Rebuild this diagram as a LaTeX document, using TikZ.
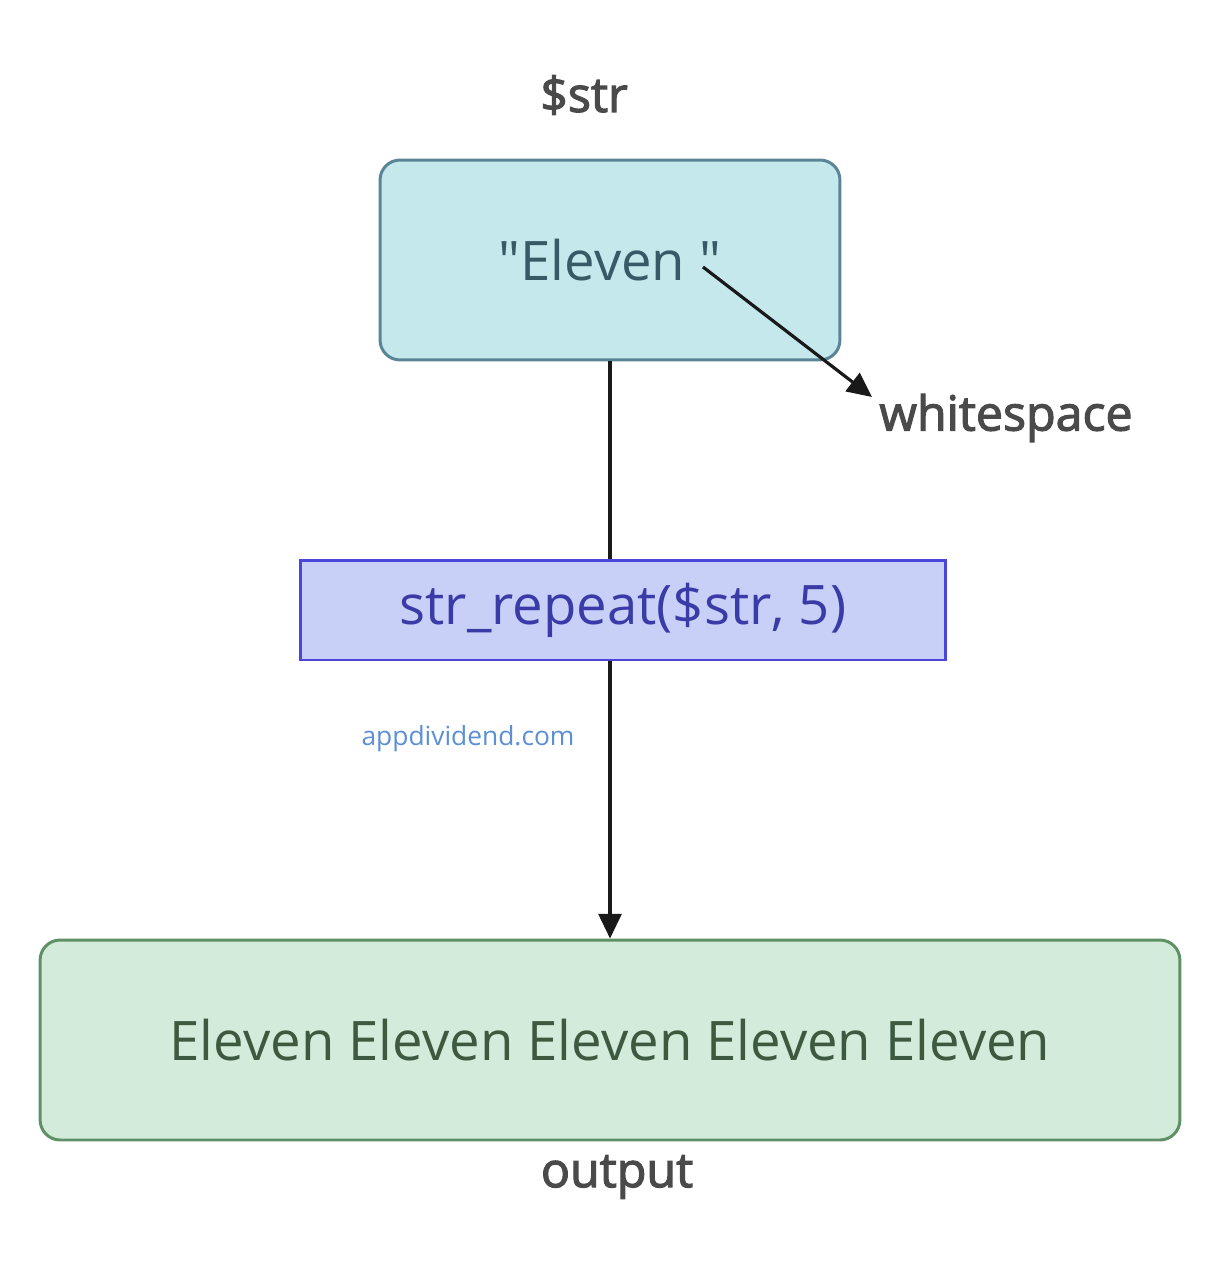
\documentclass[tikz,border=0pt]{standalone}
\usepackage{fontspec}
\setmainfont{Open Sans}[Ligatures=TeXOff]
\newfontfamily\labelfont[FakeBold=2.4]{Open Sans}
\usepackage{xcolor}
\usepackage{tikz}
\usetikzlibrary{arrows.meta}

\definecolor{strfill}{HTML}{C5E8EC}
\definecolor{strdraw}{HTML}{5A8597}
\definecolor{strtext}{HTML}{385A66}
\definecolor{fnfill}{HTML}{C8D0F8}
\definecolor{fndraw}{HTML}{4A47D8}
\definecolor{fntext}{HTML}{3B3BA8}
\definecolor{outfill}{HTML}{D2EBDA}
\definecolor{outdraw}{HTML}{5F9066}
\definecolor{outtext}{HTML}{3D5A40}
\definecolor{lblgray}{HTML}{4A4A4A}
\definecolor{siteblue}{HTML}{5B8FD6}

\begin{document}
\begin{tikzpicture}[x=0.02cm, y=-0.02cm]
  % Define styles
  \tikzstyle{strbox} = [draw=strdraw, fill=strfill, line width=1.7pt, rounded corners=0.4cm,
    minimum width=9.2cm, minimum height=4cm, text=strtext, font=\fontsize{31}{36}\selectfont]
  \tikzstyle{fnbox} = [draw=fndraw, fill=fnfill, line width=1.7pt,
    minimum width=12.92cm, minimum height=2cm, text=fntext, font=\fontsize{31}{36}\selectfont]
  \tikzstyle{outbox} = [draw=outdraw, fill=outfill, line width=1.7pt, rounded corners=0.4cm,
    minimum width=22.8cm, minimum height=4cm, text=outtext, font=\fontsize{31}{36}\selectfont]
  \tikzstyle{lbl} = [inner sep=0pt, text=lblgray, font=\labelfont\fontsize{27.5}{32}\selectfont]
  \tikzstyle{edge} = [line width=1.8pt, black!90]

  \useasboundingbox (0,0) rectangle (1221,1266);

  % Nodes
  \node[strbox] (str) at (610,260) {"Eleven "};
  \node[fnbox] (repeat) at (623,610) {str\_repeat(\$str, 5)};
  \node[outbox] (out) at (610,1040) {Eleven Eleven Eleven Eleven Eleven};
  \node[lbl] (strlbl) at (584,95) {\$str};
  \node[lbl] (ws) at (1006,418) {whitespace};
  \node[lbl] (outlbl) at (617,1177) {output};
  \node[inner sep=0pt, text=siteblue, font=\fontsize{15}{18}\selectfont] (site) at (468,739) {appdividend.com};
  \coordinate (quote) at (703,267);

  % Edges
  \draw[edge] (str.south -| 610,0) -- (repeat.north -| 610,0);
  \draw[edge, -{Triangle[length=14pt, width=13pt]}] (repeat.south -| 610,0) -- (out.north -| 610,0);
  \draw[edge, -{Triangle[length=14pt, width=13pt]}] (quote) -- ([xshift=-4pt, yshift=-2pt]ws.north west);
\end{tikzpicture}
\end{document}
